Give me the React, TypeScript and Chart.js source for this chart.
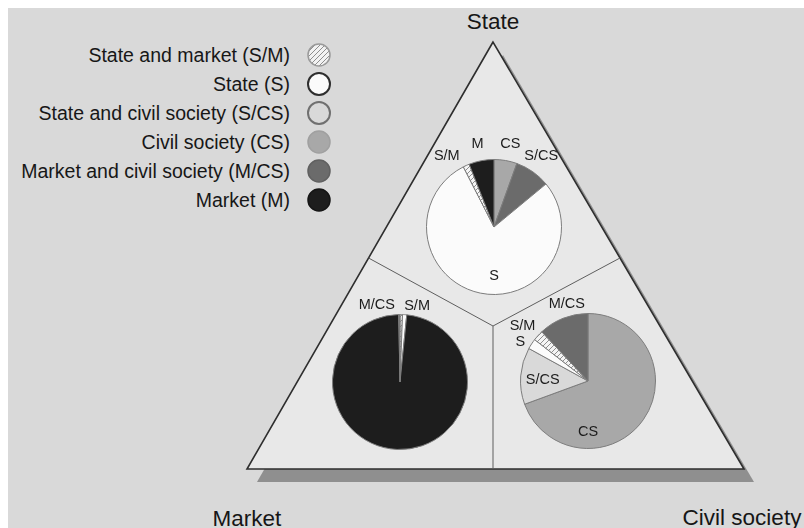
import React, { useEffect, useRef } from 'react';
import { Chart, registerables } from 'chart.js';

Chart.register(...registerables);

// ---------- data ----------
const categories = ['S/M', 'S', 'S/CS', 'CS', 'M/CS', 'M'];
const legendLabels = [
  'State and market (S/M)',
  'State (S)',
  'State and civil society (S/CS)',
  'Civil society (CS)',
  'Market and civil society (M/CS)',
  'Market (M)',
];
const cornerTitles = ['State', 'Market', 'Civil society'];

// State pie (top), clockwise from 12 o'clock
const stateSlices = ['CS', 'M/CS', 'S', 'S/M', 'M'];
const stateValues = [5.5, 8.5, 78.5, 1.5, 6];
const stateLabelTexts = ['S/M', 'M', 'CS', 'S/CS', 'S'];

// Market pie (bottom left)
const marketSlices = ['S/M', 'S', 'M', 'M/CS'];
const marketValues = [0.6, 1.0, 98.1, 0.3];
const marketLabelTexts = ['M/CS', 'S/M'];

// Civil society pie (bottom right)
const civilSlices = ['CS', 'S/CS', 'S', 'S/M', 'M/CS'];
const civilValues = [69.4, 13.6, 2.5, 2.5, 12];
const civilLabelTexts = ['M/CS', 'S/M', 'S', 'S/CS', 'CS'];

// ---------- styles / layout ----------
const FONT = '"Liberation Sans", Arial, sans-serif';
const fills: Record<string, string> = {
  'S/M': '#f0f0f0',
  S: '#fbfbfb',
  'S/CS': '#d9d9d9',
  CS: '#a8a8a8',
  'M/CS': '#6b6b6b',
  M: '#1d1d1d',
};
const legendStrokes: Record<string, string> = {
  'S/M': '#9a9a9a',
  S: '#2e2e2e',
  'S/CS': '#707070',
  CS: '#a0a0a0',
  'M/CS': '#606060',
  M: '#151515',
};
// polar label placement: [angle deg clockwise from top, distance / radius]
const stateLabelPos: [number, number][] = [[-33.7, 1.26], [-11.2, 1.25], [11.2, 1.25], [33.7, 1.26], [180, 0.73]];
const marketLabelPos: [number, number][] = [[-16.8, 1.19], [12.6, 1.16]];
const civilLabelPos: [number, number][] = [[-15.4, 1.18], [-49.8, 1.27], [-59.8, 1.16], [-88.7, 0.67], [180, 0.76]];

const APEX = [493, 42];
const BL = [247, 469];
const BR = [744, 469];
const JUNC = [493, 326];

function makeHatch(): CanvasPattern | string {
  const c = document.createElement('canvas');
  c.width = 5;
  c.height = 5;
  const g = c.getContext('2d');
  if (!g) return fills['S/M'];
  g.fillStyle = '#f4f4f4';
  g.fillRect(0, 0, 5, 5);
  g.strokeStyle = '#8e8e8e';
  g.lineWidth = 1;
  g.beginPath();
  g.moveTo(0, 5);
  g.lineTo(5, 0);
  g.moveTo(-1, 1);
  g.lineTo(1, -1);
  g.moveTo(4, 6);
  g.lineTo(6, 4);
  g.stroke();
  const p = g.createPattern(c, 'repeat');
  return p || fills['S/M'];
}

type PieProps = {
  cx: number;
  cy: number;
  slices: string[];
  values: number[];
  labels: string[];
  pos: [number, number][];
};

function PieChart({ cx, cy, slices, values, labels, pos }: PieProps) {
  const ref = useRef<HTMLCanvasElement>(null);
  useEffect(() => {
    const canvas = ref.current;
    if (!canvas) return;
    const hatch = makeHatch();
    const labelPlugin = {
      id: 'sliceLabels',
      afterDatasetsDraw(chart: any) {
        const meta = chart.getDatasetMeta(0);
        const arc: any = meta.data[0];
        if (!arc) return;
        const { x, y, outerRadius } = arc.getProps(['x', 'y', 'outerRadius'], true);
        const ctx = chart.ctx;
        ctx.save();
        ctx.font = `14.5px ${FONT}`;
        ctx.fillStyle = '#1c1c1c';
        ctx.textAlign = 'center';
        ctx.textBaseline = 'middle';
        labels.forEach((t, i) => {
          const [a, f] = pos[i];
          const rad = (a * Math.PI) / 180;
          ctx.fillText(t, x + outerRadius * f * Math.sin(rad), y - outerRadius * f * Math.cos(rad));
        });
        ctx.restore();
      },
    };
    const chart = new Chart(canvas, {
      type: 'pie',
      data: {
        labels: slices,
        datasets: [
          {
            data: values,
            backgroundColor: slices.map((s) => (s === 'S/M' ? hatch : fills[s])) as any,
            borderColor: '#7c7c7c',
            borderWidth: 1,
          },
        ],
      },
      options: {
        animation: false,
        responsive: false,
        events: [],
        layout: { padding: 32 },
        plugins: { legend: { display: false }, tooltip: { enabled: false } },
      },
      plugins: [labelPlugin],
    });
    return () => chart.destroy();
  }, []);
  return (
    <canvas
      ref={ref}
      width={200}
      height={200}
      style={{ position: 'absolute', left: cx - 100, top: cy - 100, width: 200, height: 200 }}
    />
  );
}

export default function App() {
  const pts = (arr: number[][], dx = 0, dy = 0) => arr.map((p) => `${p[0] + dx},${p[1] + dy}`).join(' ');
  const tri = [APEX, BL, BR];
  const divY = 258;
  const leftX = APEX[0] - ((divY - APEX[1]) / (BL[1] - APEX[1])) * (APEX[0] - BL[0]);
  const rightX = APEX[0] + ((divY - APEX[1]) / (BR[1] - APEX[1])) * (BR[0] - APEX[0]);
  const rowY = (i: number) => 55 + i * 29;
  return (
    <div style={{ position: 'fixed', left: 0, top: 0, width: 804, height: 528, background: '#ffffff', overflow: 'hidden' }}>
      <svg width={804} height={528} style={{ position: 'absolute', left: 0, top: 0 }}>
        <defs>
          <pattern id="hatch" width="5" height="5" patternUnits="userSpaceOnUse">
            <rect width="5" height="5" fill="#f2f2f2" />
            <path d="M0,5 L5,0 M-1,1 L1,-1 M4,6 L6,4" stroke="#8e8e8e" strokeWidth="1" />
          </pattern>
        </defs>
        <rect x={8} y={8} width={796} height={520} fill="#d9d9d9" />
        <polygon points={pts(tri, 10, 13)} fill="#8f8f8f" />
        <polygon points={pts(tri)} fill="#e8e8e8" stroke="#2e2e2e" strokeWidth={1.6} strokeLinejoin="miter" />
        <polyline points={`${leftX},${divY} ${JUNC[0]},${JUNC[1]} ${rightX},${divY}`} fill="none" stroke="#5e5e5e" strokeWidth={1} />
        <line x1={JUNC[0]} y1={JUNC[1]} x2={JUNC[0]} y2={BL[1]} stroke="#5e5e5e" strokeWidth={1} />
        <g fontFamily={FONT} fontSize={22.5} fill="#161616" textAnchor="middle" dominantBaseline="central">
          <text x={493} y={21}>{cornerTitles[0]}</text>
          <text x={247} y={518}>{cornerTitles[1]}</text>
          <text x={742} y={517}>{cornerTitles[2]}</text>
        </g>
        <g fontFamily={FONT} fontSize={19.5} fill="#171717">
          {categories.map((c, i) => (
            <g key={c}>
              <text x={290} y={rowY(i)} textAnchor="end" dominantBaseline="central">
                {legendLabels[i]}
              </text>
              <circle
                cx={319}
                cy={rowY(i)}
                r={11}
                fill={c === 'S/M' ? 'url(#hatch)' : fills[c]}
                stroke={legendStrokes[c]}
                strokeWidth={c === 'S' || c === 'S/CS' ? 2 : 1.5}
              />
            </g>
          ))}
        </g>
      </svg>
      <PieChart cx={494} cy={227} slices={stateSlices} values={stateValues} labels={stateLabelTexts} pos={stateLabelPos} />
      <PieChart cx={400} cy={382} slices={marketSlices} values={marketValues} labels={marketLabelTexts} pos={marketLabelPos} />
      <PieChart cx={588} cy={381} slices={civilSlices} values={civilValues} labels={civilLabelTexts} pos={civilLabelPos} />
    </div>
  );
}
